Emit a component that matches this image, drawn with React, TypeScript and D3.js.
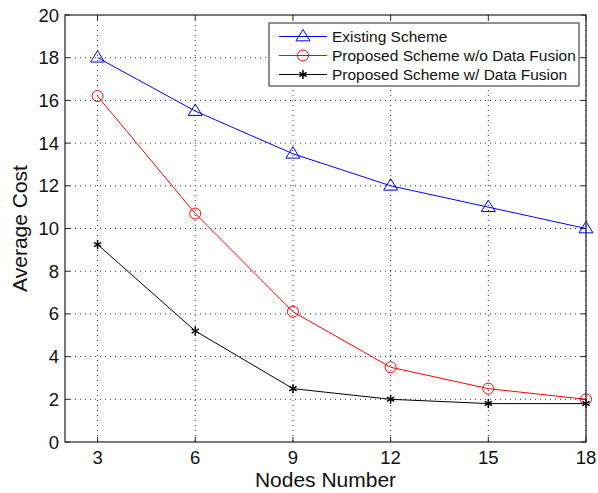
import React from "react";
import * as d3 from "d3";

const xValues = [3, 6, 9, 12, 15, 18];
const existingScheme = [18, 15.5, 13.5, 12, 11, 10];
const proposedNoFusion = [16.2, 10.7, 6.1, 3.5, 2.5, 2.0];
const proposedFusion = [9.25, 5.2, 2.5, 2.0, 1.8, 1.8];
const xTicks = [3, 6, 9, 12, 15, 18];
const yTicks = [0, 2, 4, 6, 8, 10, 12, 14, 16, 18, 20];
const seriesNames = [
  "Existing Scheme",
  "Proposed Scheme w/o Data Fusion",
  "Proposed Scheme w/ Data Fusion",
];

const W = 598;
const H = 493;
const L = 65, R = 586, T = 15, B = 442;
const FONT = "'Liberation Sans', Arial, Helvetica, sans-serif";

function Marker({ kind, x, y, color }: { kind: string; x: number; y: number; color: string }) {
  if (kind === "tri") {
    const s = 7;
    return (
      <path
        d={`M${x},${y - s} L${x + s},${y + s * 0.62} L${x - s},${y + s * 0.62} Z`}
        fill="none"
        stroke={color}
        strokeWidth={1}
      />
    );
  }
  if (kind === "circ") {
    return <circle cx={x} cy={y} r={5.5} fill="none" stroke={color} strokeWidth={1} />;
  }
  const s = 4.5;
  const d = s * 0.8;
  return (
    <g stroke={color} strokeWidth={1.5}>
      <line x1={x} y1={y - s} x2={x} y2={y + s} />
      <line x1={x - d} y1={y - d * 0.6} x2={x + d} y2={y + d * 0.6} />
      <line x1={x - d} y1={y + d * 0.6} x2={x + d} y2={y - d * 0.6} />
    </g>
  );
}

export default function App() {
  const x = d3.scaleLinear().domain([2, 18]).range([L, R]);
  const y = d3.scaleLinear().domain([0, 20]).range([B, T]);
  const line = d3
    .line<[number, number]>()
    .x((d) => x(d[0]))
    .y((d) => y(d[1]));

  const series = [
    { name: seriesNames[0], vals: existingScheme, color: "#0000ff", kind: "tri" },
    { name: seriesNames[1], vals: proposedNoFusion, color: "#ff0000", kind: "circ" },
    { name: seriesNames[2], vals: proposedFusion, color: "#000000", kind: "star" },
  ];

  const legX = 269, legY = 23, legW = 310, legH = 63;
  const rowY = [36.5, 55.5, 74.5];

  return (
    <svg width={W} height={H} style={{ position: "absolute", left: 0, top: 0, background: "#fff" }}>
      <rect x={0} y={0} width={W} height={H} fill="#fff" />
      {/* grid */}
      <g stroke="#333" strokeWidth={1} strokeDasharray="1,4">
        {xTicks.map((t) => (
          <line key={"gx" + t} x1={x(t)} x2={x(t)} y1={T} y2={B} />
        ))}
        {yTicks.filter((t) => t > 0 && t < 20).map((t) => (
          <line key={"gy" + t} x1={L} x2={R} y1={y(t)} y2={y(t)} />
        ))}
      </g>
      {/* ticks */}
      <g stroke="#222" strokeWidth={1}>
        {xTicks.map((t) => (
          <g key={"tx" + t}>
            <line x1={x(t)} x2={x(t)} y1={B} y2={B - 5} />
            <line x1={x(t)} x2={x(t)} y1={T} y2={T + 5} />
          </g>
        ))}
        {yTicks.map((t) => (
          <g key={"ty" + t}>
            <line x1={L} x2={L + 5} y1={y(t)} y2={y(t)} />
            <line x1={R} x2={R - 5} y1={y(t)} y2={y(t)} />
          </g>
        ))}
      </g>
      {/* series */}
      {series.map((s) => (
        <g key={s.name}>
          <path
            d={line(xValues.map((v, i) => [v, s.vals[i]] as [number, number])) || ""}
            fill="none"
            stroke={s.color}
            strokeWidth={1}
          />
          {xValues.map((v, i) => (
            <Marker key={i} kind={s.kind} x={x(v)} y={y(s.vals[i])} color={s.color} />
          ))}
        </g>
      ))}
      {/* axes box */}
      <rect x={L} y={T} width={R - L} height={B - T} fill="none" stroke="#222" strokeWidth={1.2} />
      {/* tick labels */}
      <g fontFamily={FONT} fontSize={18.5} fill="#111">
        {xTicks.map((t) => (
          <text key={"lx" + t} x={x(t)} y={464} textAnchor="middle">
            {t}
          </text>
        ))}
        {yTicks.map((t) => (
          <text key={"ly" + t} x={59} y={y(t) + 6.5} textAnchor="end">
            {t}
          </text>
        ))}
      </g>
      {/* axis labels */}
      <text x={(L + R) / 2} y={487} textAnchor="middle" fontFamily={FONT} fontSize={21} fill="#111">
        Nodes Number
      </text>
      <text
        transform={`translate(27,${(T + B) / 2}) rotate(-90)`}
        textAnchor="middle"
        fontFamily={FONT}
        fontSize={21}
        fill="#111"
      >
        Average Cost
      </text>
      {/* legend */}
      <rect x={legX} y={legY} width={legW} height={legH} fill="#fff" stroke="#222" strokeWidth={1} />
      {series.map((s, i) => (
        <g key={"leg" + i}>
          <line x1={legX + 10} x2={legX + 58} y1={rowY[i]} y2={rowY[i]} stroke={s.color} strokeWidth={1} />
          <Marker kind={s.kind} x={legX + 34} y={rowY[i]} color={s.color} />
          <text x={legX + 63} y={rowY[i] + 5.5} fontFamily={FONT} fontSize={15.5} fill="#111">
            {s.name}
          </text>
        </g>
      ))}
    </svg>
  );
}
